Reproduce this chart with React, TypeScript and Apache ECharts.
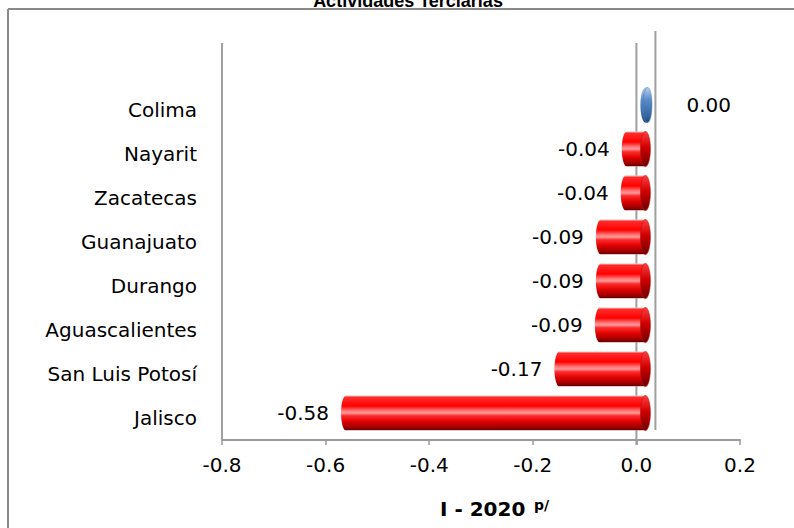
import React, { useEffect, useRef } from "react";
import * as echarts from "echarts";

const categories = [
  "Colima",
  "Nayarit",
  "Zacatecas",
  "Guanajuato",
  "Durango",
  "Aguascalientes",
  "San Luis Potosí",
  "Jalisco",
];
const values = [0.004, -0.036, -0.038, -0.086, -0.086, -0.088, -0.166, -0.578];
const xTicks = [-0.8, -0.6, -0.4, -0.2, 0.0, 0.2];
const titleText = "Actividades Terciarias";
const axisTitle = "I - 2020";
const axisTitleSup = "p/";

const FONT = "'DejaVu Sans', Verdana, sans-serif";
const GRID = { left: 222, right: 54, top: 88, bottom: 88 };

const redGrad = () =>
  new echarts.graphic.LinearGradient(0, 0, 0, 1, [
    { offset: 0, color: "#f2c4c4" },
    { offset: 0.06, color: "#ff2a2a" },
    { offset: 0.3, color: "#ff0000" },
    { offset: 0.44, color: "#ff7a7a" },
    { offset: 0.5, color: "#ff9a9a" },
    { offset: 0.58, color: "#ff2a2a" },
    { offset: 0.75, color: "#dd0000" },
    { offset: 0.9, color: "#a00000" },
    { offset: 0.97, color: "#700000" },
    { offset: 1, color: "#d8a0a0" },
  ]);
const redCap = () =>
  new echarts.graphic.LinearGradient(0, 0, 0, 1, [
    { offset: 0, color: "#ff4040" },
    { offset: 0.45, color: "#d00000" },
    { offset: 1, color: "#6a0000" },
  ]);
const blueGrad = () =>
  new echarts.graphic.LinearGradient(0, 0, 0, 1, [
    { offset: 0, color: "#b8d0ec" },
    { offset: 0.35, color: "#5b8cc8" },
    { offset: 0.75, color: "#3a6aa6" },
    { offset: 1, color: "#1f4a80" },
  ]);

export default function App() {
  const ref = useRef<HTMLDivElement>(null);

  useEffect(() => {
    if (!ref.current) return;
    const chart = echarts.init(ref.current, undefined, { renderer: "svg" });

    const renderItem = (params: any, api: any) => {
      const v = api.value(0);
      const idx = api.value(1);
      const p0 = api.coord([0, idx]);
      const p1 = api.coord([v, idx]);
      const band = api.size([0, 1])[1];
      const h = band * 0.8;
      const dx = 9;
      const dy = -5;
      const rx = 5;
      const cy = p0[1] + dy;
      const xa = Math.min(p0[0], p1[0]) + dx;
      const xb = Math.max(p0[0], p1[0]) + dx;
      const neg = v < 0;
      const fill = neg ? redGrad() : blueGrad();
      const cap = neg ? redCap() : blueGrad();
      return {
        type: "group",
        children: [
          {
            type: "rect",
            shape: { x: xa, y: cy - h / 2, width: Math.max(xb - xa, 0.1), height: h },
            style: { fill },
          },
          {
            type: "ellipse",
            shape: { cx: xa, cy, rx, ry: h / 2 },
            style: { fill },
          },
          {
            type: "ellipse",
            shape: { cx: xb, cy, rx: neg ? rx : rx - 0.5, ry: h / 2 },
            style: { fill: cap, stroke: neg ? "#c01010" : "#4f7fb8", lineWidth: 0.6 },
          },
          {
            type: "text",
            style: {
              text: v.toFixed(2),
              x: neg ? xa - rx - 12 : xb + rx + 34,
              y: cy,
              align: neg ? "right" : "left",
              verticalAlign: "middle",
              fill: "#000",
              fontSize: 20,
              fontFamily: FONT,
            },
          },
        ],
      };
    };

    chart.setOption({
      animation: false,
      grid: { ...GRID, containLabel: false },
      xAxis: {
        type: "value",
        min: xTicks[0],
        max: xTicks[xTicks.length - 1],
        interval: 0.2,
        axisLine: { show: true, lineStyle: { color: "#9a9a9a", width: 2 } },
        axisTick: { show: true, length: 5, lineStyle: { color: "#9a9a9a", width: 1.5 } },
        splitLine: { show: false },
        axisLabel: {
          margin: 15,
          color: "#000",
          fontSize: 20,
          fontFamily: FONT,
          formatter: (v: number) => v.toFixed(1),
        },
      },
      yAxis: {
        type: "category",
        data: categories,
        inverse: true,
        axisLine: { show: false },
        axisTick: { show: false },
        axisLabel: { margin: 25, color: "#000", fontSize: 20, fontFamily: FONT },
      },
      series: [
        {
          type: "custom",
          renderItem,
          data: values.map((v, i) => [v, i]),
          encode: { x: 0, y: 1 },
          clip: false,
        },
      ],
    });

    const xl = chart.convertToPixel({ xAxisIndex: 0 }, xTicks[0]) as number;
    const x0 = chart.convertToPixel({ xAxisIndex: 0 }, 0) as number;
    const yBottom = 528 - GRID.bottom;
    const lineStyle = { stroke: "#a0a0a0", lineWidth: 2 };

    chart.setOption({
      graphic: [
        { type: "line", shape: { x1: 8, y1: 9, x2: 794, y2: 9 }, style: { stroke: "#8a8a8a", lineWidth: 2 } },
        { type: "line", shape: { x1: 8, y1: 9, x2: 8, y2: 528 }, style: { stroke: "#8a8a8a", lineWidth: 2 } },
        { type: "line", shape: { x1: xl, y1: 43, x2: xl, y2: yBottom }, style: lineStyle },
        { type: "line", shape: { x1: x0, y1: 43, x2: x0, y2: yBottom + 5 }, style: lineStyle },
        { type: "line", shape: { x1: x0 + 19, y1: 31, x2: x0 + 19, y2: yBottom - 10 }, style: lineStyle },
        {
          type: "text",
          x: 408,
          y: 10,
          style: {
            text: titleText,
            align: "center",
            verticalAlign: "bottom",
            fill: "#000",
            font: "bold 18px 'Liberation Sans', Arial, sans-serif",
          },
        },
        {
          type: "text",
          x: 440,
          y: 509,
          style: {
            text: axisTitle,
            align: "left",
            verticalAlign: "middle",
            fill: "#000",
            font: `bold 20px ${FONT}`,
          },
        },
        {
          type: "text",
          x: 534,
          y: 498,
          style: {
            text: axisTitleSup,
            align: "left",
            verticalAlign: "top",
            fill: "#000",
            font: `bold 14px ${FONT}`,
          },
        },
      ],
    });

    return () => chart.dispose();
  }, []);

  return (
    <div
      ref={ref}
      style={{ position: "fixed", left: 0, top: 0, width: 794, height: 528, background: "#fff" }}
    />
  );
}
